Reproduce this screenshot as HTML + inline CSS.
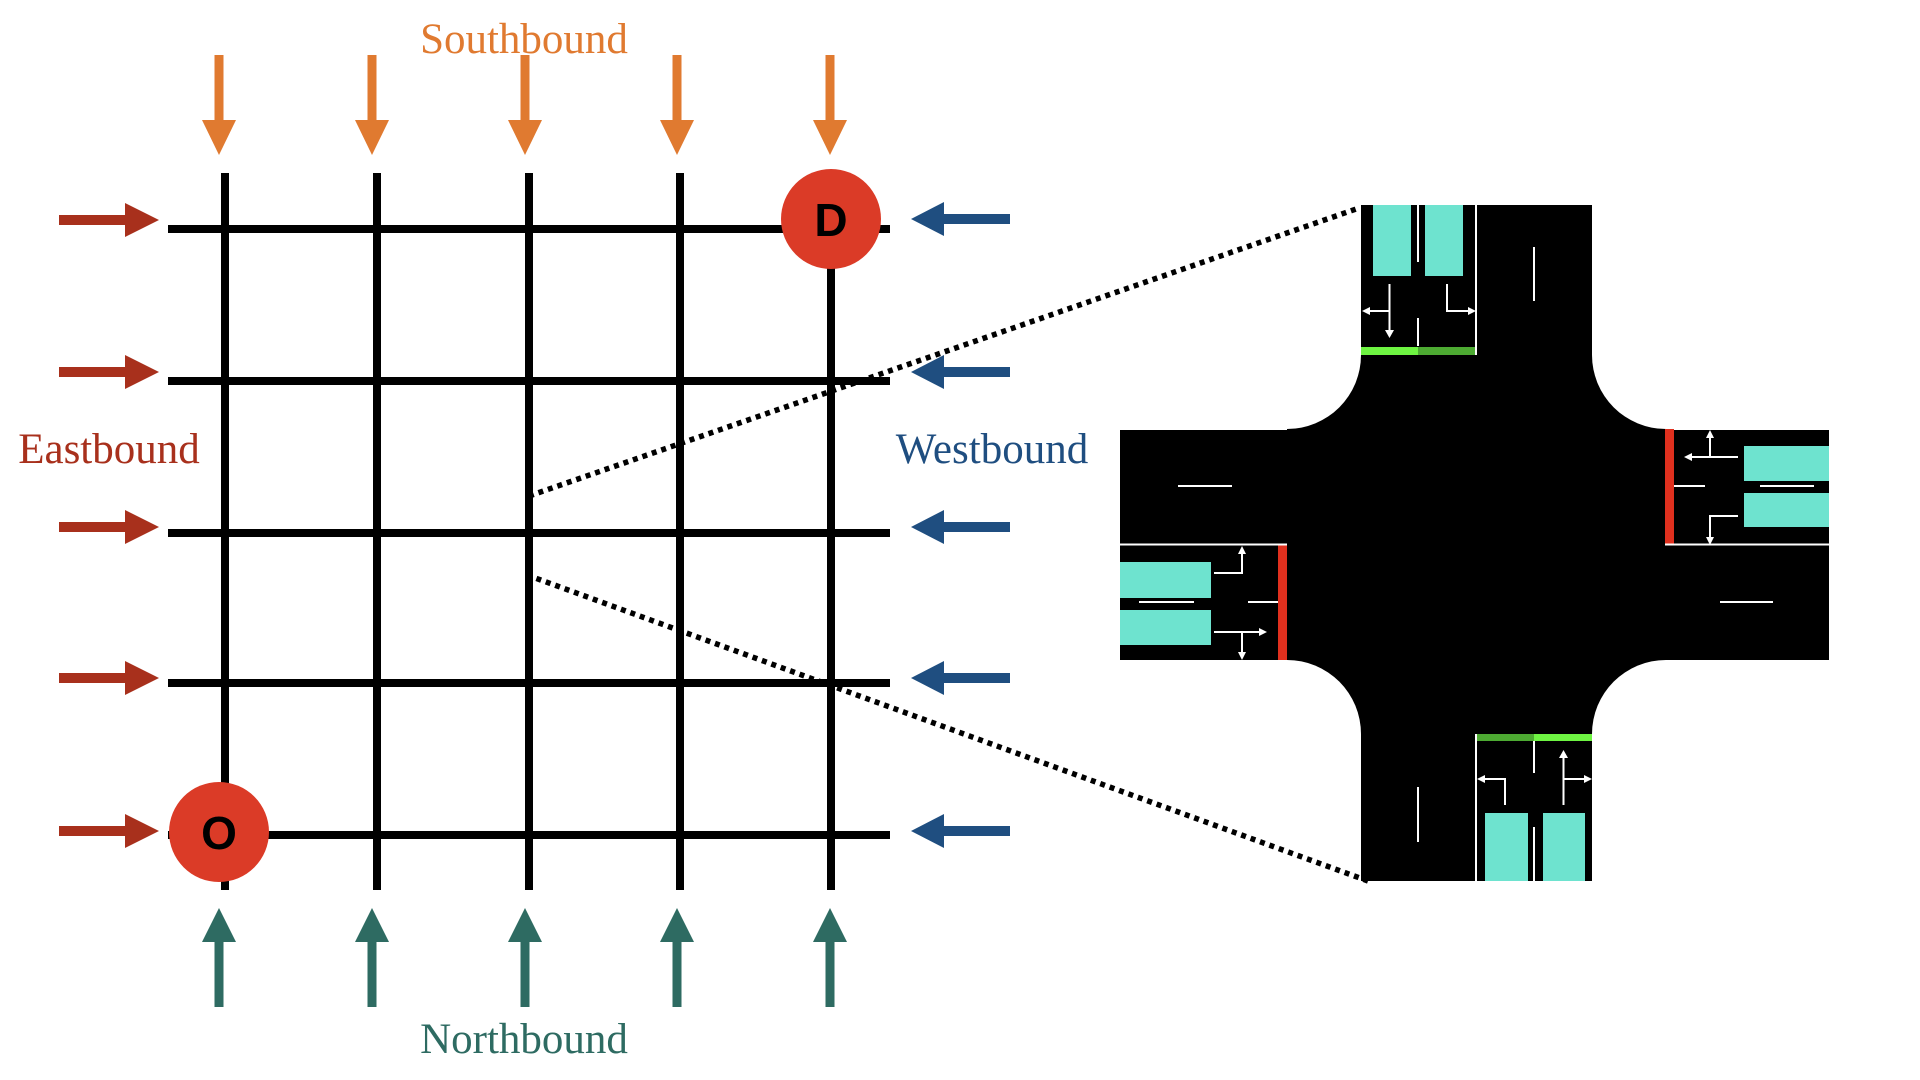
<!DOCTYPE html>
<html><head><meta charset="utf-8"><style>
html,body{margin:0;padding:0;background:#fff;}
svg{display:block;}
</style></head><body>
<svg width="1920" height="1080" viewBox="0 0 1920 1080" xmlns="http://www.w3.org/2000/svg">
<defs>
<g id="sa"><rect x="-4.5" y="55" width="9" height="66"/><polygon points="-17,120 17,120 0,155"/></g>
<g id="na"><rect x="-4.5" y="940" width="9" height="67"/><polygon points="-17,942 17,942 0,908"/></g>
<g id="ea"><rect x="59" y="-5" width="68" height="10"/><polygon points="125,-17 125,17 159,0"/></g>
<g id="wa"><rect x="942" y="-5" width="68" height="10"/><polygon points="944,-17 944,17 911,0"/></g>
</defs>
<rect width="1920" height="1080" fill="#fff"/>
<!-- labels -->
<g font-family="Liberation Serif, serif" font-size="43" text-anchor="middle">
<text x="524" y="53" fill="#E07A30">Southbound</text>
<text x="109" y="463" fill="#A8301C">Eastbound</text>
<text x="992" y="463" fill="#1F4E80">Westbound</text>
<text x="524" y="1053" fill="#2E6B62">Northbound</text>
</g>
<!-- grid -->
<g stroke="#000" stroke-width="8">
<line x1="225" y1="173" x2="225" y2="890"/>
<line x1="377" y1="173" x2="377" y2="890"/>
<line x1="529" y1="173" x2="529" y2="890"/>
<line x1="680" y1="173" x2="680" y2="890"/>
<line x1="831" y1="173" x2="831" y2="890"/>
<line x1="168" y1="229" x2="890" y2="229"/>
<line x1="168" y1="381" x2="890" y2="381"/>
<line x1="168" y1="533" x2="890" y2="533"/>
<line x1="168" y1="683" x2="890" y2="683"/>
<line x1="168" y1="835" x2="890" y2="835"/>
</g>
<g fill="#E07A30">
<use href="#sa" x="219"/><use href="#sa" x="372"/><use href="#sa" x="525"/><use href="#sa" x="677"/><use href="#sa" x="830"/>
</g>
<g fill="#2E6B62">
<use href="#na" x="219"/><use href="#na" x="372"/><use href="#na" x="525"/><use href="#na" x="677"/><use href="#na" x="830"/>
</g>
<g fill="#A8301C">
<use href="#ea" y="220"/><use href="#ea" y="372"/><use href="#ea" y="527"/><use href="#ea" y="678"/><use href="#ea" y="831"/>
</g>
<g fill="#1F4E80">
<use href="#wa" y="219"/><use href="#wa" y="372"/><use href="#wa" y="527"/><use href="#wa" y="678"/><use href="#wa" y="831"/>
</g>
<!-- O / D -->
<circle cx="831" cy="219" r="50" fill="#DB3B27"/>
<circle cx="219" cy="832" r="50" fill="#DB3B27"/>
<g font-family="Liberation Sans, sans-serif" font-weight="bold" font-size="46" text-anchor="middle" fill="#000">
<text x="831" y="236">D</text>
<text x="219" y="849">O</text>
</g>
<!-- dotted connectors -->
<g stroke="#000" stroke-width="5.5" stroke-dasharray="5 5" fill="none">
<line x1="529" y1="496" x2="1359" y2="208"/>
<line x1="527" y1="575" x2="1368" y2="881"/>
</g>
<!-- intersection -->
<rect x="1287" y="355" width="379" height="379" fill="#000"/>
<g fill="#fff">
<circle cx="1287" cy="355" r="74"/><circle cx="1666" cy="355" r="74"/>
<circle cx="1287" cy="734" r="74"/><circle cx="1666" cy="734" r="74"/>
</g>
<rect x="1361" y="205" width="231" height="676" fill="#000"/>
<rect x="1120" y="430" width="709" height="230" fill="#000"/>
<!-- cars -->
<g fill="#6EE3CF">
<rect x="1373" y="205" width="38" height="71"/><rect x="1425" y="205" width="38" height="71"/>
<rect x="1485" y="813" width="43" height="68"/><rect x="1543" y="813" width="42" height="68"/>
<rect x="1120" y="562" width="91" height="36"/><rect x="1120" y="610" width="91" height="35"/>
<rect x="1744" y="446" width="85" height="35"/><rect x="1744" y="493" width="85" height="34"/>
</g>
<!-- stop bars -->
<rect x="1361" y="347" width="57" height="8" fill="#6EF442"/>
<rect x="1418" y="347" width="58" height="8" fill="#4DAA32"/>
<rect x="1476" y="734" width="58" height="7" fill="#4DAA32"/>
<rect x="1534" y="734" width="58" height="7" fill="#6EF442"/>
<rect x="1278" y="544" width="9" height="116" fill="#E0301E"/>
<rect x="1665" y="429" width="9" height="115" fill="#E0301E"/>
<!-- markings -->
<g stroke="#fff" stroke-width="2" fill="none">
<line x1="1476" y1="205" x2="1476" y2="355"/>
<line x1="1418" y1="205" x2="1418" y2="262"/>
<line x1="1418" y1="318" x2="1418" y2="346"/>
<line x1="1534" y1="247" x2="1534" y2="301"/>
<line x1="1476" y1="734" x2="1476" y2="881"/>
<line x1="1534" y1="741" x2="1534" y2="773"/>
<line x1="1534" y1="827" x2="1534" y2="881"/>
<line x1="1418" y1="787" x2="1418" y2="842"/>
<line x1="1120" y1="544.5" x2="1287" y2="544.5"/>
<line x1="1139" y1="602" x2="1194" y2="602"/>
<line x1="1248" y1="602" x2="1278" y2="602"/>
<line x1="1178" y1="486" x2="1232" y2="486"/>
<line x1="1665" y1="544.5" x2="1829" y2="544.5"/>
<line x1="1674" y1="486" x2="1705" y2="486"/>
<line x1="1760" y1="486" x2="1814" y2="486"/>
<line x1="1720" y1="602" x2="1773" y2="602"/>
<line x1="1389.5" y1="284" x2="1389.5" y2="330"/>
<line x1="1368" y1="311" x2="1389.5" y2="311"/>
<polyline points="1447,284 1447,311 1468,311"/>
<polyline points="1505,805 1505,779 1485,779"/>
<line x1="1563.5" y1="805" x2="1563.5" y2="758"/>
<line x1="1563.5" y1="779" x2="1584" y2="779"/>
<polyline points="1214,573 1242,573 1242,554"/>
<line x1="1214" y1="632" x2="1259" y2="632"/>
<line x1="1242" y1="632" x2="1242" y2="652"/>
<line x1="1738" y1="457" x2="1692" y2="457"/>
<line x1="1710" y1="457" x2="1710" y2="438"/>
<polyline points="1738,516 1710,516 1710,537"/>
</g>
<g fill="#fff">
<polygon points="1385,330 1394,330 1389.5,338"/>
<polygon points="1370,307 1370,315 1362,311"/>
<polygon points="1468,307 1468,315 1476,311"/>
<polygon points="1485,775 1485,783 1477,779"/>
<polygon points="1559,758 1568,758 1563.5,750"/>
<polygon points="1584,775 1584,783 1592,779"/>
<polygon points="1238,554 1246,554 1242,546"/>
<polygon points="1259,628 1259,636 1267,632"/>
<polygon points="1238,652 1246,652 1242,660"/>
<polygon points="1692,453 1692,461 1684,457"/>
<polygon points="1706,438 1714,438 1710,430"/>
<polygon points="1706,537 1714,537 1710,545"/>
</g>
</svg>
</body></html>
